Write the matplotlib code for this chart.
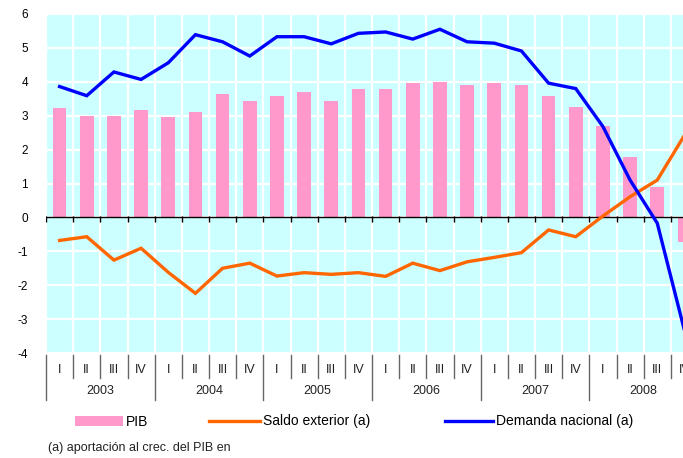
import matplotlib
matplotlib.use('Agg')
import matplotlib.pyplot as plt
import numpy as np

plt.rcParams['font.family'] = ['Liberation Sans', 'DejaVu Sans']

years = ['2003', '2004', '2005', '2006', '2007', '2008']
quarters = ['I', 'II', 'III', 'IV']
pib = [3.24, 3.00, 3.00, 3.17, 2.97, 3.11, 3.64, 3.43, 3.58, 3.70, 3.43, 3.79,
       3.79, 3.96, 3.99, 3.91, 3.96, 3.91, 3.58, 3.26, 2.70, 1.78, 0.91, -0.73]
saldo = [-0.68, -0.57, -1.26, -0.91, -1.62, -2.24, -1.50, -1.35, -1.73, -1.63, -1.68, -1.63,
         -1.74, -1.35, -1.57, -1.31, -1.18, -1.04, -0.37, -0.57, 0.04, 0.61, 1.10, 2.42]
demanda = [3.86, 3.59, 4.29, 4.07, 4.56, 5.39, 5.18, 4.76, 5.33, 5.33, 5.12, 5.43,
           5.47, 5.26, 5.55, 5.18, 5.14, 4.91, 3.96, 3.80, 2.68, 1.10, -0.17, -3.33]
yticks = [-4, -3, -2, -1, 0, 1, 2, 3, 4, 5, 6]
labels = ['PIB', 'Saldo exterior (a)', 'Demanda nacional (a)']
footnote = '(a) aportación al crec. del PIB en'

W, H = 683, 458
fig = plt.figure(figsize=(W / 100, H / 100), dpi=100)
ax = fig.add_axes([46 / W, (H - 353) / H, 652 / W, 339 / H])

n = len(pib)
x = np.arange(n) + 0.5
ax.set_xlim(0, n)
ax.set_ylim(yticks[0], yticks[-1])
ax.set_facecolor('#CCFFFF')
for s in ax.spines.values():
    s.set_visible(False)

ax.set_xticks(np.arange(n + 1))
ax.set_xticklabels([])
ax.set_yticks(yticks)
ax.set_yticklabels([str(v) for v in yticks], fontsize=8.5)
ax.tick_params(axis='both', length=0)
ax.tick_params(axis='y', pad=13)
ax.grid(True, color='white', lw=1.6)
ax.set_axisbelow(True)

bars = ax.bar(x, pib, width=0.5, color='#FF99CC', zorder=2)
ax.axhline(0, color='black', lw=1, zorder=3)
ax.vlines(np.arange(n + 1), -0.13, 0.03, color='black', lw=1, zorder=3)
l1, = ax.plot(x, saldo, color='#FF6600', lw=2.4, zorder=4, solid_joinstyle='miter')
l2, = ax.plot(x, demanda, color='#0000FF', lw=2.4, zorder=5, solid_joinstyle='miter')

# category axis below
tr = ax.get_xaxis_transform()
for i in range(n + 1):
    long = (i % 4 == 0)
    ax.plot([i, i], [-0.006, -0.139 if long else -0.074], color='#666666', lw=1,
            transform=tr, clip_on=False)
for i in range(n):
    ax.text(i + 0.5, -0.050, quarters[i % 4], transform=tr, ha='center', va='center',
            fontsize=9, color='#222222')
for j, y in enumerate(years):
    ax.text(4 * j + 2, -0.112, y, transform=tr, ha='center', va='center',
            fontsize=9, color='#222222')

# legend entries
ly = (H - 421.5) / H
for h, lab, x0, hl in [(bars, labels[0], 75, 3.45), (l1, labels[1], 209, 3.67), (l2, labels[2], 445, 3.45)]:
    fig.legend(handles=[h], labels=[lab], loc='center left', bbox_to_anchor=(x0 / W, ly),
               frameon=False, borderpad=0, borderaxespad=0, handlelength=hl,
               handleheight=0.72, handletextpad=0.2, fontsize=10)

fig.text(48 / W, (H - 447.5) / H, footnote, fontsize=9, va='center', ha='left', color='#222222')

fig.savefig('out.png', dpi=100)
